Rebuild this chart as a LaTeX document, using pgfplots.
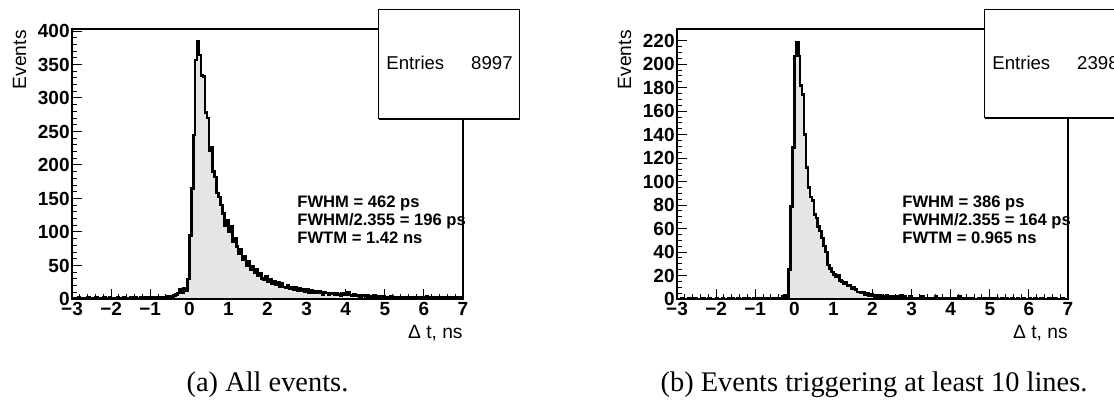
\documentclass[border=0pt]{standalone}
\usepackage{fontspec}
\setmainfont{Liberation Serif}
\newfontfamily\hv{Liberation Sans}
\usepackage{pgfplots}
\usepackage{pgfplotstable}
\pgfplotsset{compat=1.18}

\pgfplotstableread[row sep=\\]{
x y\\
-3.00 1\\ -2.95 0\\ -2.90 1\\ -2.85 2\\ -2.80 1\\ -2.75 0\\ -2.70 1\\ -2.65 1\\ -2.60 2\\ -2.55 1\\
-2.50 0\\ -2.45 1\\ -2.40 2\\ -2.35 1\\ -2.30 1\\ -2.25 0\\ -2.20 2\\ -2.15 1\\ -2.10 1\\ -2.05 2\\
-2.00 1\\ -1.95 0\\ -1.90 1\\ -1.85 2\\ -1.80 1\\ -1.75 1\\ -1.70 2\\ -1.65 1\\ -1.60 0\\ -1.55 1\\
-1.50 2\\ -1.45 1\\ -1.40 2\\ -1.35 1\\ -1.30 1\\ -1.25 2\\ -1.20 1\\ -1.15 2\\ -1.10 1\\ -1.05 2\\
-1.00 2\\ -0.95 1\\ -0.90 2\\ -0.85 3\\ -0.80 2\\ -0.75 2\\ -0.70 3\\ -0.65 2\\ -0.60 3\\ -0.55 4\\
-0.50 4\\ -0.45 3\\ -0.40 5\\ -0.35 7\\ -0.30 9\\ -0.25 14\\ -0.20 10\\ -0.15 16\\ -0.10 13\\ -0.05 30\\
0.00 95\\ 0.05 165\\ 0.10 245\\ 0.15 357\\ 0.20 384\\ 0.25 364\\ 0.30 334\\ 0.35 332\\ 0.40 278\\ 0.45 270\\
0.50 222\\ 0.55 226\\ 0.60 190\\ 0.65 182\\ 0.70 158\\ 0.75 152\\ 0.80 140\\ 0.85 128\\ 0.90 110\\ 0.95 118\\
1.00 100\\ 1.05 108\\ 1.10 86\\ 1.15 90\\ 1.20 78\\ 1.25 68\\ 1.30 74\\ 1.35 58\\ 1.40 64\\ 1.45 50\\
1.50 56\\ 1.55 44\\ 1.60 49\\ 1.65 39\\ 1.70 44\\ 1.75 35\\ 1.80 39\\ 1.85 31\\ 1.90 29\\ 1.95 34\\
2.00 26\\ 2.05 30\\ 2.10 23\\ 2.15 27\\ 2.20 21\\ 2.25 25\\ 2.30 19\\ 2.35 23\\ 2.40 18\\ 2.45 17\\
2.50 21\\ 2.55 15\\ 2.60 18\\ 2.65 14\\ 2.70 17\\ 2.75 13\\ 2.80 16\\ 2.85 12\\ 2.90 14\\ 2.95 11\\
3.00 14\\ 3.05 10\\ 3.10 13\\ 3.15 9\\ 3.20 12\\ 3.25 9\\ 3.30 11\\ 3.35 10\\ 3.40 7\\ 3.45 10\\
3.50 9\\ 3.55 6\\ 3.60 9\\ 3.65 8\\ 3.70 6\\ 3.75 8\\ 3.80 7\\ 3.85 5\\ 3.90 8\\ 3.95 6\\
4.00 7\\ 4.05 10\\ 4.10 6\\ 4.15 5\\ 4.20 7\\ 4.25 5\\ 4.30 6\\ 4.35 4\\ 4.40 5\\ 4.45 6\\
4.50 4\\ 4.55 5\\ 4.60 4\\ 4.65 3\\ 4.70 5\\ 4.75 4\\ 4.80 3\\ 4.85 4\\ 4.90 3\\ 4.95 4\\
5.00 3\\ 5.05 2\\ 5.10 3\\ 5.15 4\\ 5.20 2\\ 5.25 3\\ 5.30 2\\ 5.35 3\\ 5.40 2\\ 5.45 3\\
5.50 2\\ 5.55 1\\ 5.60 3\\ 5.65 2\\ 5.70 2\\ 5.75 3\\ 5.80 2\\ 5.85 1\\ 5.90 2\\ 5.95 3\\
6.00 2\\ 6.05 4\\ 6.10 2\\ 6.15 1\\ 6.20 2\\ 6.25 3\\ 6.30 2\\ 6.35 2\\ 6.40 1\\ 6.45 2\\
6.50 3\\ 6.55 2\\ 6.60 1\\ 6.65 2\\ 6.70 2\\ 6.75 1\\ 6.80 3\\ 6.85 2\\ 6.90 1\\ 6.95 2\\
7.00 2\\
}\histA

\pgfplotstableread[row sep=\\]{
x y\\
-3.00 0\\ -2.95 0\\ -2.90 1\\ -2.85 0\\ -2.80 0\\ -2.75 0\\ -2.70 1\\ -2.65 0\\ -2.60 0\\ -2.55 1\\
-2.50 0\\ -2.45 0\\ -2.40 0\\ -2.35 1\\ -2.30 0\\ -2.25 0\\ -2.20 1\\ -2.15 0\\ -2.10 0\\ -2.05 0\\
-2.00 1\\ -1.95 0\\ -1.90 0\\ -1.85 1\\ -1.80 0\\ -1.75 0\\ -1.70 1\\ -1.65 0\\ -1.60 1\\ -1.55 0\\
-1.50 0\\ -1.45 1\\ -1.40 0\\ -1.35 0\\ -1.30 1\\ -1.25 0\\ -1.20 1\\ -1.15 0\\ -1.10 0\\ -1.05 1\\
-1.00 0\\ -0.95 1\\ -0.90 0\\ -0.85 1\\ -0.80 0\\ -0.75 1\\ -0.70 0\\ -0.65 1\\ -0.60 1\\ -0.55 0\\
-0.50 1\\ -0.45 1\\ -0.40 0\\ -0.35 1\\ -0.30 2\\ -0.25 3\\ -0.20 2\\ -0.15 25\\ -0.10 79\\ -0.05 129\\
0.00 207\\ 0.05 219\\ 0.10 207\\ 0.15 182\\ 0.20 174\\ 0.25 140\\ 0.30 112\\ 0.35 95\\ 0.40 87\\ 0.45 84\\
0.50 72\\ 0.55 69\\ 0.60 62\\ 0.65 58\\ 0.70 52\\ 0.75 45\\ 0.80 40\\ 0.85 29\\ 0.90 26\\ 0.95 23\\
1.00 21\\ 1.05 19\\ 1.10 20\\ 1.15 16\\ 1.20 15\\ 1.25 13\\ 1.30 14\\ 1.35 11\\ 1.40 12\\ 1.45 9\\
1.50 10\\ 1.55 8\\ 1.60 6\\ 1.65 6\\ 1.70 5\\ 1.75 6\\ 1.80 4\\ 1.85 5\\ 1.90 3\\ 1.95 4\\
2.00 3\\ 2.05 2\\ 2.10 3\\ 2.15 2\\ 2.20 3\\ 2.25 2\\ 2.30 2\\ 2.35 3\\ 2.40 2\\ 2.45 2\\
2.50 1\\ 2.55 2\\ 2.60 1\\ 2.65 2\\ 2.70 3\\ 2.75 1\\ 2.80 2\\ 2.85 1\\ 2.90 1\\ 2.95 2\\
3.00 1\\ 3.05 1\\ 3.10 0\\ 3.15 1\\ 3.20 1\\ 3.25 2\\ 3.30 1\\ 3.35 0\\ 3.40 1\\ 3.45 1\\
3.50 0\\ 3.55 1\\ 3.60 2\\ 3.65 1\\ 3.70 0\\ 3.75 1\\ 3.80 1\\ 3.85 0\\ 3.90 1\\ 3.95 0\\
4.00 1\\ 4.05 1\\ 4.10 0\\ 4.15 1\\ 4.20 2\\ 4.25 0\\ 4.30 1\\ 4.35 0\\ 4.40 1\\ 4.45 0\\
4.50 1\\ 4.55 1\\ 4.60 0\\ 4.65 0\\ 4.70 1\\ 4.75 0\\ 4.80 1\\ 4.85 0\\ 4.90 1\\ 4.95 0\\
5.00 0\\ 5.05 1\\ 5.10 0\\ 5.15 1\\ 5.20 0\\ 5.25 0\\ 5.30 1\\ 5.35 0\\ 5.40 1\\ 5.45 0\\
5.50 0\\ 5.55 1\\ 5.60 0\\ 5.65 0\\ 5.70 1\\ 5.75 0\\ 5.80 0\\ 5.85 1\\ 5.90 0\\ 5.95 0\\
6.00 1\\ 6.05 0\\ 6.10 0\\ 6.15 1\\ 6.20 0\\ 6.25 0\\ 6.30 1\\ 6.35 0\\ 6.40 0\\ 6.45 0\\
6.50 1\\ 6.55 0\\ 6.60 0\\ 6.65 1\\ 6.70 0\\ 6.75 0\\ 6.80 0\\ 6.85 1\\ 6.90 0\\ 6.95 0\\
7.00 0\\
}\histB

\pgfplotsset{rootaxis/.style={
  scale only axis, width=195.5pt, height=135pt,
  anchor=south west,
  xmin=-3, xmax=7, ymin=0,
  axis line style={line width=0.6pt},
  tick align=inside, tick pos=left,
  xtick={-3,-2,...,7},
  xticklabels={−3,−2,−1,0,1,2,3,4,5,6,7},
  minor x tick num=4,
  major tick length=5pt, minor tick length=2.5pt,
  every tick/.style={black, line width=0.5pt},
  ticklabel style={font=\hv\bfseries\fontsize{9.5}{10}\selectfont},
  xticklabel style={inner sep=1.5pt},
  yticklabel style={inner sep=1pt},
  /pgf/number format/assume math mode=true,
  scaled y ticks=false,
}}

\begin{document}
\begin{tikzpicture}
\path[use as bounding box] (0,0) rectangle (557pt,-200pt);
\clip (0,0) rectangle (557pt,-200pt);

% ---------- left panel ----------
\begin{axis}[rootaxis, at={(36pt,-149.5pt)}, ymax=403,
  ytick={0,50,...,400}, minor y tick num=4]
\addplot[const plot, fill=black!10, draw=black, line width=1.3pt]
  table[x=x,y=y] {\histA} \closedcycle;
\end{axis}
\fill[white] (189pt,-5pt) rectangle (259.5pt,-59.5pt);
\draw[line width=0.5pt] (189pt,-5pt) rectangle (259.5pt,-59.5pt);
\draw[line width=0.7pt] (189.5pt,-59.8pt) -- (259.8pt,-59.8pt) -- (259.8pt,-5.5pt);
\node[font=\hv\fontsize{9.3}{10}\selectfont, anchor=west, inner sep=0] at (193pt,-31.5pt) {Entries};
\node[font=\hv\fontsize{9.3}{10}\selectfont, anchor=east, inner sep=0] at (256.5pt,-31.5pt) {8997};
\node[font=\hv\bfseries\fontsize{8.3}{8.8}\selectfont, anchor=north west, align=left, inner sep=0]
  at (148.5pt,-98pt) {FWHM = 462 ps\\FWHM/2.355 = 196 ps\\FWTM = 1.42 ns};
\node[font=\hv\fontsize{9.6}{10}\selectfont, rotate=90, anchor=east, inner sep=0] at (9.75pt,-15pt) {Events};
\node[font=\hv\fontsize{9.6}{10}\selectfont, anchor=east, inner sep=0] at (231.5pt,-166.5pt) {Δ t, ns};
\node[font=\fontsize{14.2}{16}\selectfont, anchor=base, inner sep=0] at (133.75pt,-196pt) {(a) All events.};

% ---------- right panel ----------
\begin{axis}[rootaxis, at={(338.5pt,-149.5pt)}, ymax=230,
  ytick={0,20,...,220}, minor y tick num=3]
\addplot[const plot, fill=black!10, draw=black, line width=1.3pt]
  table[x=x,y=y] {\histB} \closedcycle;
\end{axis}
\fill[white] (492pt,-5pt) rectangle (562.5pt,-59pt);
\draw[line width=0.5pt] (492pt,-5pt) rectangle (562.5pt,-59pt);
\draw[line width=0.7pt] (492.5pt,-59.3pt) -- (562.8pt,-59.3pt);
\node[font=\hv\fontsize{9.3}{10}\selectfont, anchor=west, inner sep=0] at (496pt,-31.5pt) {Entries};
\node[font=\hv\fontsize{9.3}{10}\selectfont, anchor=east, inner sep=0] at (559.5pt,-31.5pt) {2398};
\node[font=\hv\bfseries\fontsize{8.3}{8.8}\selectfont, anchor=north west, align=left, inner sep=0]
  at (451pt,-98pt) {FWHM = 386 ps\\FWHM/2.355 = 164 ps\\FWTM = 0.965 ns};
\node[font=\hv\fontsize{9.6}{10}\selectfont, rotate=90, anchor=east, inner sep=0] at (312.25pt,-15pt) {Events};
\node[font=\hv\fontsize{9.6}{10}\selectfont, anchor=east, inner sep=0] at (534pt,-166.5pt) {Δ t, ns};
\node[font=\fontsize{14.2}{16}\selectfont, anchor=base, inner sep=0] at (437pt,-196pt) {(b) Events triggering at least 10 lines.};
\end{tikzpicture}
\end{document}
